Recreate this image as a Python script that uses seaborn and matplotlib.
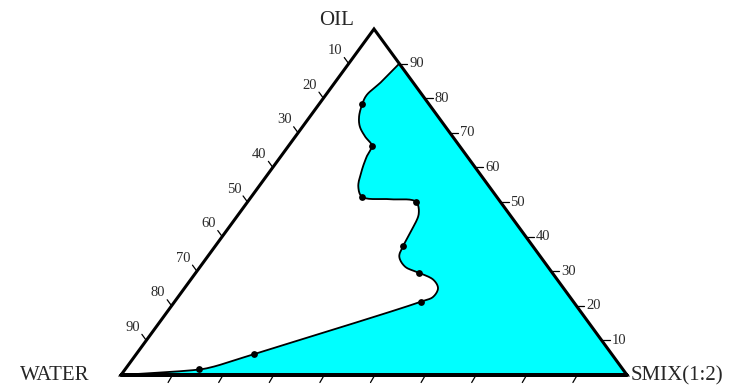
import numpy as np
import pandas as pd
import matplotlib
matplotlib.use("Agg")
import matplotlib.pyplot as plt
import seaborn as sns

# ---------------- data (percent compositions) ----------------
# measured points (oil %, smix %, water %)
dot_oil = [78.4, 66.3, 51.5, 50.1, 37.4, 29.6, 21.2, 6.0, 1.6]
dot_smix = [8.5, 16.4, 21.9, 33.2, 37.1, 44.0, 48.7, 23.2, 14.7]

# boundary of the microemulsion region (oil %, smix %), from the oil axis at 90 to the water vertex
bnd_oil = [90.0, 84.8, 80.9, 78.4, 74.7, 71.8, 68.9, 66.3, 63.1, 59.2, 54.4, 51.5,
           50.8, 50.1, 46.7, 41.9, 37.4, 34.2, 31.3, 29.6, 27.5, 25.1, 22.6, 21.2,
           6.0, 2.3, 1.6, 0.0]
bnd_smix = [10.0, 9.1, 8.1, 8.5, 9.7, 11.3, 13.8, 16.4, 17.0, 18.0, 19.7, 21.9,
            27.8, 33.2, 35.5, 36.5, 37.1, 37.9, 40.5, 44.0, 48.0, 50.1, 50.4, 48.7,
            23.2, 16.85, 14.7, 0.0]

tick_values = [10, 20, 30, 40, 50, 60, 70, 80, 90]
vertex_labels = ["OIL", "WATER", "SMIX(1:2)"]

W, H = 729, 385
SX, SY = 506.0, 346.0  # px per data unit


def tern(oil, smix):
    oil = np.asarray(oil, float) / 100.0
    smix = np.asarray(smix, float) / 100.0
    return smix + 0.5 * oil, oil


def centripetal_cr(x, y, n=16, alpha=0.5):
    # smooth drawing of the boundary (in pixel-proportional space)
    P = np.column_stack([np.asarray(x) * SX, np.asarray(y) * SY])
    P = np.vstack([2 * P[0] - P[1], P, 2 * P[-1] - P[-2]])
    out = []
    for i in range(1, len(P) - 2):
        p0, p1, p2, p3 = P[i - 1], P[i], P[i + 1], P[i + 2]
        t0 = 0.0
        t1 = t0 + max(np.linalg.norm(p1 - p0), 1e-6) ** alpha
        t2 = t1 + max(np.linalg.norm(p2 - p1), 1e-6) ** alpha
        t3 = t2 + max(np.linalg.norm(p3 - p2), 1e-6) ** alpha
        t = np.linspace(t1, t2, n, endpoint=False)[:, None]
        A1 = (t1 - t) / (t1 - t0) * p0 + (t - t0) / (t1 - t0) * p1
        A2 = (t2 - t) / (t2 - t1) * p1 + (t - t1) / (t2 - t1) * p2
        A3 = (t3 - t) / (t3 - t2) * p2 + (t - t2) / (t3 - t2) * p3
        B1 = (t2 - t) / (t2 - t0) * A1 + (t - t0) / (t2 - t0) * A2
        B2 = (t3 - t) / (t3 - t1) * A2 + (t - t1) / (t3 - t1) * A3
        C = (t2 - t) / (t2 - t1) * B1 + (t - t1) / (t2 - t1) * B2
        out.append(C)
    out.append(P[-2][None, :])
    out = np.vstack(out)
    return out[:, 0] / SX, out[:, 1] / SY


sns.set_theme(style="white")
plt.rcParams["font.family"] = ["Liberation Serif", "DejaVu Serif"]

fig = plt.figure(figsize=(W / 100, H / 100), dpi=100)
# triangle: WATER (121,375) px, SMIX (627,375) px, OIL (374,29) px
ax = fig.add_axes([121 / W, (H - 375) / H, 506 / W, 346 / H])
ax.set_xlim(0, 1)
ax.set_ylim(0, 1)
ax.axis("off")

# region fill
bx, by = tern(bnd_oil, bnd_smix)
cx, cy = centripetal_cr(bx, by)
fx = np.concatenate([cx, [1.0]])
fy = np.concatenate([cy, [0.0]])
ax.fill(fx, fy, color="#00FFFF", lw=0, zorder=1)

curve = pd.DataFrame({"x": cx, "y": cy})
sns.lineplot(data=curve, x="x", y="y", sort=False, estimator=None, color="black",
             lw=1.3, ax=ax, zorder=3)

# triangle
tri = pd.DataFrame({"x": [0, 1, 0.5, 0, 1], "y": [0, 0, 1, 0, 0]})
sns.lineplot(data=tri, x="x", y="y", sort=False, estimator=None, color="black",
             lw=2.2, ax=ax, zorder=4)
for ln in ax.lines:
    ln.set_clip_on(False)
    ln.set_solid_joinstyle("miter")

# points
dx, dy = tern(dot_oil, dot_smix)
pts = pd.DataFrame({"x": dx, "y": dy})
sns.scatterplot(data=pts, x="x", y="y", color="black", s=24, marker="o",
                edgecolor="black", linewidth=0, ax=ax, zorder=5, clip_on=False)
ax.set_xlabel("")
ax.set_ylabel("")

tick_col = "#2a2a2a"
# left edge (water %)
L = np.hypot(253, 346)
for v in tick_values:
    ex, ey = tern(100 - v, 0)
    ux, uy = -0.5, 1.0
    f = 7.5 / L
    ax.plot([ex, ex + f * ux], [ey, ey + f * uy], color="black", lw=0.9, clip_on=False)
    g = 16 / L
    ax.text(ex + g * ux - 4 / SX, ey + g * uy, str(v), ha="center", va="center",
            fontsize=10.5, color=tick_col)
# right edge (oil %)
for v in tick_values:
    ex, ey = tern(v, 100 - v)
    ax.plot([ex, ex + 8 / SX], [ey, ey], color="black", lw=0.9, clip_on=False)
    ax.text(ex + 10 / SX, ey, str(v), ha="left", va="center", fontsize=10.5, color=tick_col)
# bottom edge (smix %)
for v in tick_values:
    ex, ey = tern(0, v)
    ax.plot([ex, ex - 3.5 / SX], [ey - 1.5 / SY, ey - 7.5 / SY], color="black", lw=0.9,
            clip_on=False)

ax.text((354 - 121) / SX, (375 - 20) / SY, vertex_labels[0], ha="right", va="center",
        fontsize=15)
ax.text((89 - 121) / SX, -1 / SY, vertex_labels[1], ha="right", va="center", fontsize=15)
ax.text((631 - 121) / SX, -1 / SY, vertex_labels[2], ha="left", va="center", fontsize=15)

fig.savefig("out.png", dpi=100)
